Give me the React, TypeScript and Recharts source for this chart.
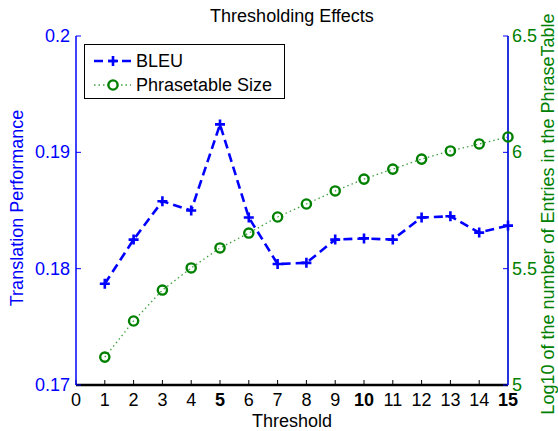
import { ComposedChart, Line, XAxis, YAxis, Legend } from "recharts";

const thresholds = [1, 2, 3, 4, 5, 6, 7, 8, 9, 10, 11, 12, 13, 14, 15];
const bleu = [0.1787, 0.1825, 0.1858, 0.185, 0.1924, 0.1844, 0.1804, 0.1805, 0.1825, 0.1826, 0.1825, 0.1844, 0.1845, 0.1831, 0.1837];
const phraseSize = [5.12, 5.275, 5.408, 5.503, 5.589, 5.653, 5.722, 5.778, 5.834, 5.885, 5.928, 5.971, 6.006, 6.036, 6.066];
const xTicks = [0, 1, 2, 3, 4, 5, 6, 7, 8, 9, 10, 11, 12, 13, 14, 15];
const boldTicks = [5, 10, 15];
const bleuTicks = [0.17, 0.18, 0.19, 0.2];
const sizeTicks = [5, 5.5, 6, 6.5];

const data = thresholds.map((t, i) => ({ t, bleu: bleu[i], size: phraseSize[i] }));

const FONT = "'Liberation Sans', Arial, sans-serif";
const BLUE = "#0000ff";
const GREEN = "#008000";

const PlusDot = (p: any) => {
  const { cx, cy, index } = p;
  return (
    <path key={`p${index}`} d={`M${cx - 5},${cy}H${cx + 5}M${cx},${cy - 5}V${cy + 5}`} stroke={BLUE} strokeWidth={2.6} fill="none" />
  );
};

const CircleDot = (p: any) => {
  const { cx, cy, index } = p;
  return <circle key={`c${index}`} cx={cx} cy={cy} r={4.6} stroke={GREEN} strokeWidth={2.4} fill="none" />;
};

const XTick = (p: any) => {
  const { x, y, payload } = p;
  const bold = boldTicks.includes(payload.value);
  return (
    <text x={x} y={y} dy={16} textAnchor="middle" fontSize={18} fontFamily={FONT} fontWeight={bold ? "bold" : "normal"} fill="#000">
      {payload.value}
    </text>
  );
};

const LeftTick = (p: any) => (
  <text x={p.x} y={p.y} dy={6} textAnchor="end" fontSize={18} fontFamily={FONT} fill={BLUE}>
    {p.payload.value}
  </text>
);

const RightTick = (p: any) => (
  <text x={p.x} y={p.y} dy={6} textAnchor="start" fontSize={18} fontFamily={FONT} fill={GREEN}>
    {p.payload.value}
  </text>
);

const LegendBox = () => (
  <div style={{ border: "1px solid #000", background: "#fff", width: 201, height: 55, fontFamily: FONT, fontSize: 18, color: "#000", boxSizing: "border-box" }}>
    <div style={{ display: "flex", alignItems: "center", height: 24, marginTop: 4 }}>
      <svg width={48} height={20}>
        <line x1={9} y1={10} x2={46} y2={10} stroke={BLUE} strokeWidth={2.6} strokeDasharray="9 5" />
        <path d="M23,10H33M28,5V15" stroke={BLUE} strokeWidth={2.6} />
      </svg>
      <span style={{ marginLeft: 3 }}>BLEU</span>
    </div>
    <div style={{ display: "flex", alignItems: "center", height: 24 }}>
      <svg width={48} height={20}>
        <line x1={9} y1={10} x2={46} y2={10} stroke={GREEN} strokeWidth={1.3} strokeDasharray="1.5 3" strokeOpacity={0.75} />
        <circle cx={28} cy={10} r={4.6} stroke={GREEN} strokeWidth={2.4} fill="#fff" />
      </svg>
      <span style={{ marginLeft: 3 }}>Phrasetable Size</span>
    </div>
  </div>
);

export default function App() {
  return (
    <div style={{ position: "absolute", left: 0, top: 0, width: 558, height: 431, background: "#fff", fontFamily: FONT }}>
      <div style={{ position: "absolute", left: 76, width: 432, top: 7, textAlign: "center", fontSize: 18, lineHeight: "18px", color: "#000" }}>
        Thresholding Effects
      </div>
      <ComposedChart width={558} height={431} data={data} margin={{ top: 36, right: 0, bottom: 0, left: 0 }}>
        <XAxis
          xAxisId="bottom"
          dataKey="t"
          type="number"
          domain={[0, 15]}
          ticks={xTicks}
          interval={0}
          height={46}
          tickSize={-5}
          tickMargin={10}
          tick={XTick}
          axisLine={{ stroke: "#000", strokeWidth: 2.5 }}
          tickLine={{ stroke: "#000" }}
          label={{
            content: (lp: any) => {
              const vb = lp.viewBox;
              return (
                <text x={vb.x + vb.width / 2} y={427} textAnchor="middle" fontSize={18} fontFamily={FONT} fill="#000">
                  Threshold
                </text>
              );
            },
          }}
        />
        <XAxis
          xAxisId="top"
          orientation="top"
          dataKey="t"
          type="number"
          domain={[0, 15]}
          ticks={xTicks}
          interval={0}
          height={0}
          tickSize={-5}
          tick={false}
          axisLine={{ stroke: "#000", strokeWidth: 1 }}
          tickLine={{ stroke: "#000" }}
        />
        <YAxis
          yAxisId="left"
          type="number"
          domain={[0.17, 0.2]}
          ticks={bleuTicks}
          interval={0}
          width={76}
          tickSize={-5}
          tickMargin={11}
          tick={LeftTick}
          axisLine={{ stroke: BLUE, strokeWidth: 1.5 }}
          tickLine={{ stroke: BLUE }}
          label={{
            content: () => (
              <text transform="translate(23,208) rotate(-90)" textAnchor="middle" fontSize={18} fontFamily={FONT} fill={BLUE}>
                Translation Performance
              </text>
            ),
          }}
        />
        <YAxis
          yAxisId="right"
          orientation="right"
          type="number"
          domain={[5, 6.5]}
          ticks={sizeTicks}
          interval={0}
          width={50}
          tickSize={-5}
          tickMargin={9}
          tick={RightTick}
          axisLine={{ stroke: "#2233dd", strokeWidth: 2 }}
          tickLine={{ stroke: BLUE }}
          label={{
            content: () => (
              <text transform="translate(554,214) rotate(-90)" textAnchor="middle" fontSize={18} fontFamily={FONT} fill={GREEN}>
                Log10 of the number of Entries in the PhraseTable
              </text>
            ),
          }}
        />
        <Legend layout="vertical" align="center" verticalAlign="middle" wrapperStyle={{ position: "absolute", left: 84, top: 44, width: 201, height: 55 }} content={LegendBox} />
        <Line
          xAxisId="bottom"
          yAxisId="left"
          type="linear"
          dataKey="bleu"
          name="BLEU"
          stroke={BLUE}
          strokeWidth={2.6}
          strokeDasharray="9 5"
          dot={PlusDot}
          activeDot={false}
          isAnimationActive={false}
        />
        <Line
          xAxisId="bottom"
          yAxisId="right"
          type="linear"
          dataKey="size"
          name="Phrasetable Size"
          stroke={GREEN}
          strokeWidth={1.3}
          strokeOpacity={0.75}
          strokeDasharray="1.5 3"
          dot={CircleDot}
          activeDot={false}
          isAnimationActive={false}
        />
      </ComposedChart>
    </div>
  );
}
